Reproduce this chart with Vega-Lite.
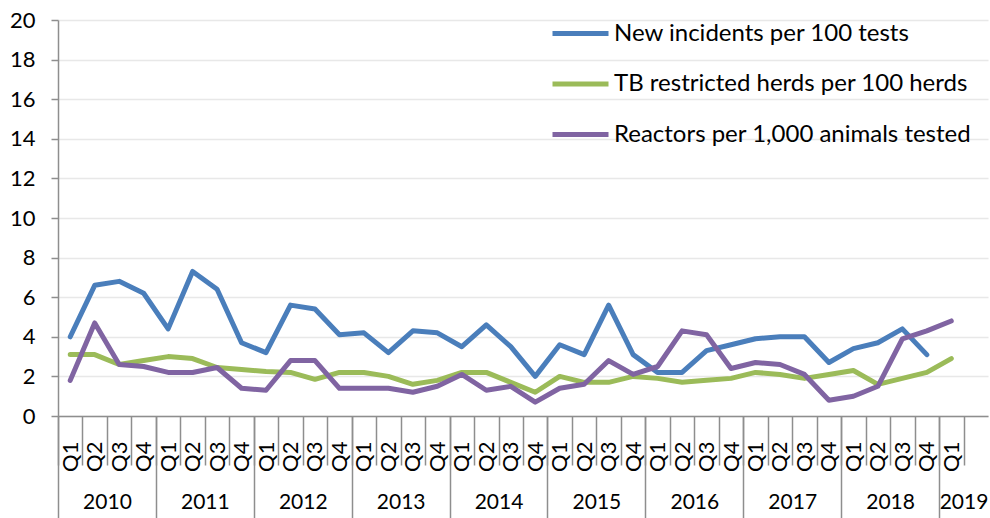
{
  "$schema": "https://vega.github.io/schema/vega-lite/v6.json",
  "width": 930,
  "height": 396,
  "autosize": {"type": "none"},
  "padding": {"left": 58, "top": 20, "right": 2, "bottom": 102},
  "config": {
    "view": {"stroke": null},
    "font": "Lato",
    "axis": {"labelFont": "Lato", "labelColor": "#000000", "domainColor": "#8e8e8e", "tickColor": "#8e8e8e", "domainWidth": 1.5, "tickWidth": 1.5, "title": null}
  },
  "data": {
    "values": [
      {"quarter": "2010 Q1", "New incidents per 100 tests": 4.0, "TB restricted herds per 100 herds": 3.1, "Reactors per 1,000 animals tested": 1.8},
      {"quarter": "2010 Q2", "New incidents per 100 tests": 6.6, "TB restricted herds per 100 herds": 3.1, "Reactors per 1,000 animals tested": 4.7},
      {"quarter": "2010 Q3", "New incidents per 100 tests": 6.8, "TB restricted herds per 100 herds": 2.6, "Reactors per 1,000 animals tested": 2.6},
      {"quarter": "2010 Q4", "New incidents per 100 tests": 6.2, "TB restricted herds per 100 herds": 2.8, "Reactors per 1,000 animals tested": 2.5},
      {"quarter": "2011 Q1", "New incidents per 100 tests": 4.4, "TB restricted herds per 100 herds": 3.0, "Reactors per 1,000 animals tested": 2.2},
      {"quarter": "2011 Q2", "New incidents per 100 tests": 7.3, "TB restricted herds per 100 herds": 2.9, "Reactors per 1,000 animals tested": 2.2},
      {"quarter": "2011 Q3", "New incidents per 100 tests": 6.4, "TB restricted herds per 100 herds": 2.45, "Reactors per 1,000 animals tested": 2.45},
      {"quarter": "2011 Q4", "New incidents per 100 tests": 3.7, "TB restricted herds per 100 herds": 2.35, "Reactors per 1,000 animals tested": 1.4},
      {"quarter": "2012 Q1", "New incidents per 100 tests": 3.2, "TB restricted herds per 100 herds": 2.25, "Reactors per 1,000 animals tested": 1.3},
      {"quarter": "2012 Q2", "New incidents per 100 tests": 5.6, "TB restricted herds per 100 herds": 2.2, "Reactors per 1,000 animals tested": 2.8},
      {"quarter": "2012 Q3", "New incidents per 100 tests": 5.4, "TB restricted herds per 100 herds": 1.85, "Reactors per 1,000 animals tested": 2.8},
      {"quarter": "2012 Q4", "New incidents per 100 tests": 4.1, "TB restricted herds per 100 herds": 2.2, "Reactors per 1,000 animals tested": 1.4},
      {"quarter": "2013 Q1", "New incidents per 100 tests": 4.2, "TB restricted herds per 100 herds": 2.2, "Reactors per 1,000 animals tested": 1.4},
      {"quarter": "2013 Q2", "New incidents per 100 tests": 3.2, "TB restricted herds per 100 herds": 2.0, "Reactors per 1,000 animals tested": 1.4},
      {"quarter": "2013 Q3", "New incidents per 100 tests": 4.3, "TB restricted herds per 100 herds": 1.6, "Reactors per 1,000 animals tested": 1.2},
      {"quarter": "2013 Q4", "New incidents per 100 tests": 4.2, "TB restricted herds per 100 herds": 1.8, "Reactors per 1,000 animals tested": 1.5},
      {"quarter": "2014 Q1", "New incidents per 100 tests": 3.5, "TB restricted herds per 100 herds": 2.2, "Reactors per 1,000 animals tested": 2.1},
      {"quarter": "2014 Q2", "New incidents per 100 tests": 4.6, "TB restricted herds per 100 herds": 2.2, "Reactors per 1,000 animals tested": 1.3},
      {"quarter": "2014 Q3", "New incidents per 100 tests": 3.5, "TB restricted herds per 100 herds": 1.7, "Reactors per 1,000 animals tested": 1.5},
      {"quarter": "2014 Q4", "New incidents per 100 tests": 2.0, "TB restricted herds per 100 herds": 1.2, "Reactors per 1,000 animals tested": 0.7},
      {"quarter": "2015 Q1", "New incidents per 100 tests": 3.6, "TB restricted herds per 100 herds": 2.0, "Reactors per 1,000 animals tested": 1.4},
      {"quarter": "2015 Q2", "New incidents per 100 tests": 3.1, "TB restricted herds per 100 herds": 1.7, "Reactors per 1,000 animals tested": 1.6},
      {"quarter": "2015 Q3", "New incidents per 100 tests": 5.6, "TB restricted herds per 100 herds": 1.7, "Reactors per 1,000 animals tested": 2.8},
      {"quarter": "2015 Q4", "New incidents per 100 tests": 3.1, "TB restricted herds per 100 herds": 2.0, "Reactors per 1,000 animals tested": 2.1},
      {"quarter": "2016 Q1", "New incidents per 100 tests": 2.2, "TB restricted herds per 100 herds": 1.9, "Reactors per 1,000 animals tested": 2.5},
      {"quarter": "2016 Q2", "New incidents per 100 tests": 2.2, "TB restricted herds per 100 herds": 1.7, "Reactors per 1,000 animals tested": 4.3},
      {"quarter": "2016 Q3", "New incidents per 100 tests": 3.3, "TB restricted herds per 100 herds": 1.8, "Reactors per 1,000 animals tested": 4.1},
      {"quarter": "2016 Q4", "New incidents per 100 tests": 3.6, "TB restricted herds per 100 herds": 1.9, "Reactors per 1,000 animals tested": 2.4},
      {"quarter": "2017 Q1", "New incidents per 100 tests": 3.9, "TB restricted herds per 100 herds": 2.2, "Reactors per 1,000 animals tested": 2.7},
      {"quarter": "2017 Q2", "New incidents per 100 tests": 4.0, "TB restricted herds per 100 herds": 2.1, "Reactors per 1,000 animals tested": 2.6},
      {"quarter": "2017 Q3", "New incidents per 100 tests": 4.0, "TB restricted herds per 100 herds": 1.9, "Reactors per 1,000 animals tested": 2.1},
      {"quarter": "2017 Q4", "New incidents per 100 tests": 2.7, "TB restricted herds per 100 herds": 2.1, "Reactors per 1,000 animals tested": 0.8},
      {"quarter": "2018 Q1", "New incidents per 100 tests": 3.4, "TB restricted herds per 100 herds": 2.3, "Reactors per 1,000 animals tested": 1.0},
      {"quarter": "2018 Q2", "New incidents per 100 tests": 3.7, "TB restricted herds per 100 herds": 1.6, "Reactors per 1,000 animals tested": 1.5},
      {"quarter": "2018 Q3", "New incidents per 100 tests": 4.4, "TB restricted herds per 100 herds": 1.9, "Reactors per 1,000 animals tested": 3.9},
      {"quarter": "2018 Q4", "New incidents per 100 tests": 3.1, "TB restricted herds per 100 herds": 2.2, "Reactors per 1,000 animals tested": 4.3},
      {"quarter": "2019 Q1", "New incidents per 100 tests": null, "TB restricted herds per 100 herds": 2.9, "Reactors per 1,000 animals tested": 4.8}
    ]
  },
  "resolve": {"axis": {"x": "independent"}},
  "layer": [
    {
      "transform": [
        {"fold": ["New incidents per 100 tests", "TB restricted herds per 100 herds", "Reactors per 1,000 animals tested"], "as": ["series", "value"]},
        {"filter": "isValid(datum.value)"}
      ],
      "mark": {"type": "line", "strokeWidth": 5, "strokeJoin": "round", "strokeCap": "round"},
      "encoding": {
        "x": {
          "field": "quarter", "type": "ordinal",
          "scale": {"type": "point", "padding": 0.5, "domain": ["2010 Q1","2010 Q2","2010 Q3","2010 Q4","2011 Q1","2011 Q2","2011 Q3","2011 Q4","2012 Q1","2012 Q2","2012 Q3","2012 Q4","2013 Q1","2013 Q2","2013 Q3","2013 Q4","2014 Q1","2014 Q2","2014 Q3","2014 Q4","2015 Q1","2015 Q2","2015 Q3","2015 Q4","2016 Q1","2016 Q2","2016 Q3","2016 Q4","2017 Q1","2017 Q2","2017 Q3","2017 Q4","2018 Q1","2018 Q2","2018 Q3","2018 Q4","2019 Q1","2019 Q2"]},
          "axis": {"orient": "bottom", "tickOffset": -12.237, "labelOffset": 12.237, "tickSize": 49, "labelAngle": -90, "labelAlign": "right", "labelBaseline": "middle", "labelPadding": -24, "labelFontSize": 22, "labelExpr": "datum.value == '2019 Q2' ? '' : slice(datum.value, 5)", "grid": false}
        },
        "y": {
          "field": "value", "type": "quantitative",
          "scale": {"domain": [0, 20], "nice": false, "zero": true},
          "axis": {"values": [0,2,4,6,8,10,12,14,16,18,20], "grid": true, "gridColor": "#e8e8e8", "gridWidth": 1.5, "tickSize": 7, "labelPadding": 16, "labelFontSize": 22}
        },
        "color": {
          "field": "series", "type": "nominal",
          "scale": {"domain": ["New incidents per 100 tests", "TB restricted herds per 100 herds", "Reactors per 1,000 animals tested"], "range": ["#4a7ebb", "#9bbb59", "#8064a2"]},
          "legend": {"orient": "none", "legendX": 492, "legendY": -17, "title": null, "symbolType": "stroke", "symbolSize": 3136, "symbolStrokeWidth": 5, "labelFontSize": 24, "labelFont": "Lato", "labelColor": "#000000", "rowPadding": 7.5, "labelOffset": 3, "padding": 0, "labelLimit": 450}
        }
      }
    },
    {
      "mark": {"type": "point", "opacity": 0},
      "encoding": {
        "x": {
          "field": "quarter", "type": "ordinal",
          "axis": {"orient": "bottom", "values": ["2010 Q3","2011 Q3","2012 Q3","2013 Q3","2014 Q3","2015 Q3","2016 Q3","2017 Q3","2018 Q3","2019 Q2"], "tickOffset": -12.237, "ticks": false, "domain": false, "labelPadding": 75, "labelFontSize": 21, "labelAngle": 0, "labelExpr": "slice(datum.value, 0, 4)", "grid": false}
        }
      }
    },
    {
      "mark": {"type": "point", "opacity": 0},
      "encoding": {
        "x": {
          "field": "quarter", "type": "ordinal",
          "axis": {"orient": "bottom", "values": ["2010 Q1","2011 Q1","2012 Q1","2013 Q1","2014 Q1","2015 Q1","2016 Q1","2017 Q1","2018 Q1","2019 Q1"], "tickOffset": -12.237, "ticks": true, "tickSize": 102, "domain": false, "labels": false, "grid": false}
        }
      }
    }
  ]
}
